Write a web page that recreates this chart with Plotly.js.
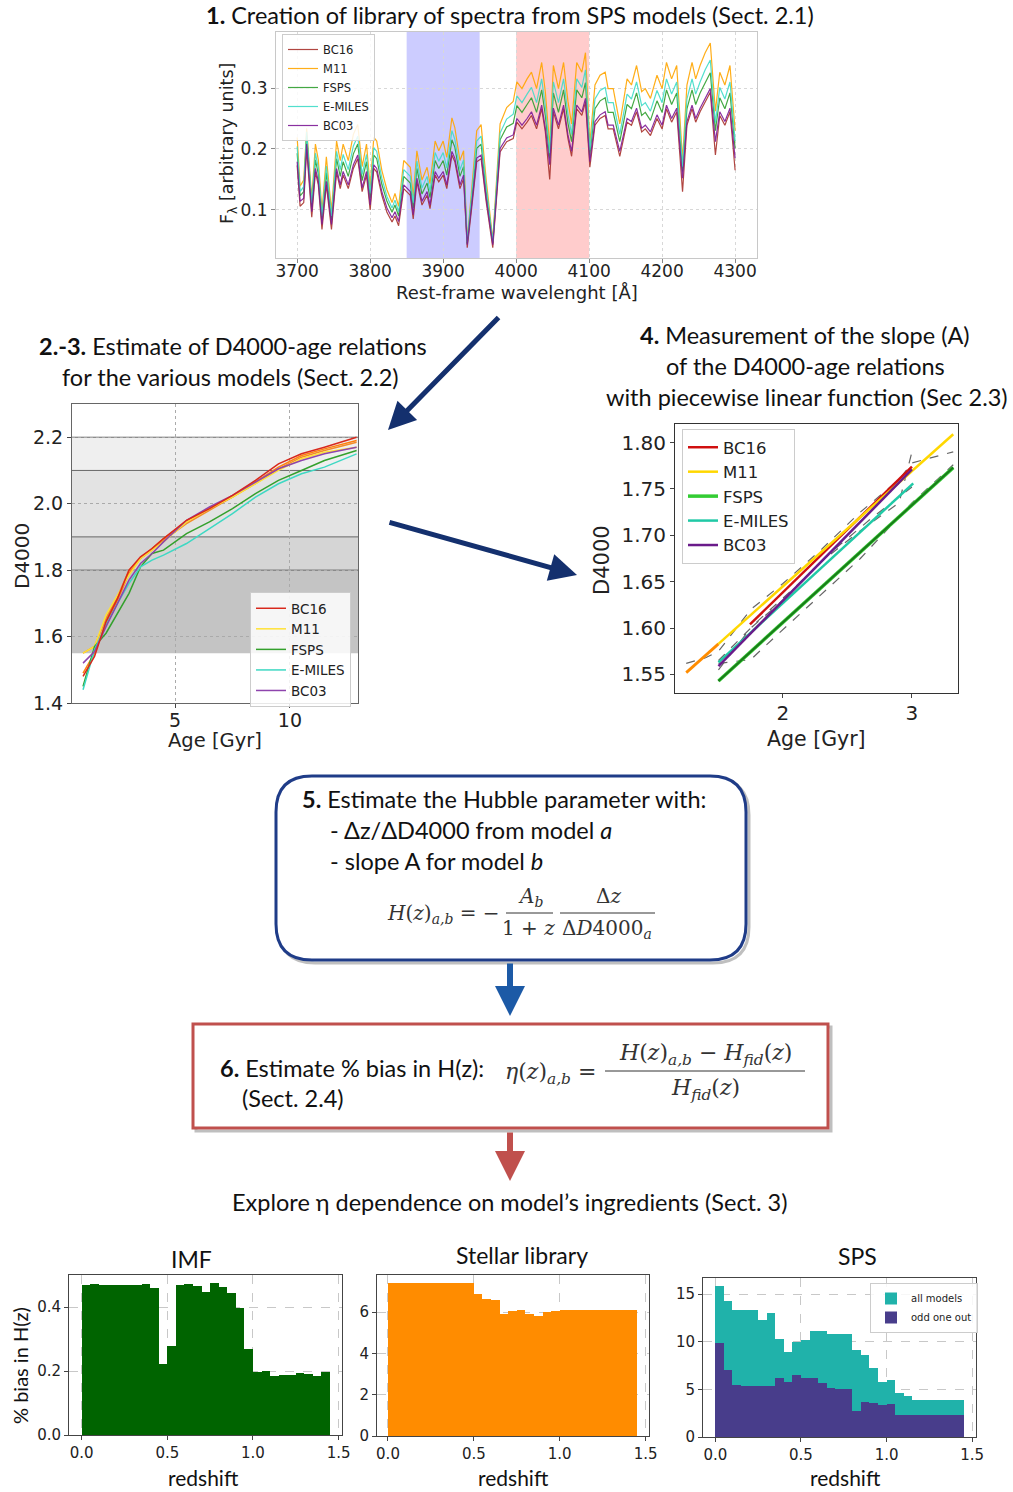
<!DOCTYPE html>
<html><head><meta charset="utf-8">
<script src="https://cdn.plot.ly/plotly-3.0.1.min.js"></script>
<style>html,body{margin:0;padding:0;background:#fff}#chart{width:1013px;height:1492px}</style>
</head><body><div id="chart"></div>
<script>
const W=1013,H=1492;
// ---------- DATA ----------
// Panel 1: spectra
const specWave=[3700,3704,3709,3713,3720,3725,3729,3734,3740,3747,3754,3759,3763,3770,3777,3783,3789,3795,3800,3805,3809,3816,3823,3830,3834,3839,3846,3855,3859,3864,3871,3878,3882,3889,3894,3900,3905,3912,3916,3923,3928,3933,3939,3946,3952,3959,3968,3978,3987,3996,4001,4008,4015,4021,4028,4035,4040,4046,4051,4058,4065,4071,4076,4083,4090,4095,4101,4108,4115,4122,4126,4133,4142,4152,4158,4165,4172,4177,4184,4193,4200,4206,4213,4220,4228,4234,4241,4246,4252,4259,4266,4273,4279,4286,4293,4300];
const fluxBC16=[.173,.106,.112,.200,.088,.162,.141,.068,.141,.068,.162,.135,.157,.135,.168,.184,.130,.157,.100,.168,.162,.124,.096,.080,.090,.074,.135,.124,.085,.146,.108,.124,.102,.157,.146,.157,.135,.190,.179,.135,.151,.038,.102,.179,.184,.113,.038,.195,.212,.217,.244,.233,.244,.255,.233,.266,.228,.150,.261,.233,.266,.217,.188,.266,.255,.277,.170,.239,.250,.255,.233,.233,.188,.244,.239,.261,.228,.233,.222,.250,.233,.266,.244,.261,.130,.239,.266,.244,.261,.277,.293,.190,.255,.239,.261,.165];
const fluxM11=[.219,.139,.149,.234,.119,.208,.182,.098,.187,.098,.213,.181,.208,.181,.224,.240,.171,.208,.138,.219,.213,.165,.133,.112,.127,.106,.181,.170,.122,.197,.149,.170,.143,.213,.197,.213,.186,.251,.235,.181,.197,.049,.133,.230,.240,.149,.051,.241,.268,.278,.310,.299,.315,.326,.299,.342,.294,.204,.337,.299,.342,.278,.241,.342,.326,.358,.209,.305,.321,.326,.299,.299,.241,.315,.305,.337,.294,.299,.283,.321,.299,.342,.315,.337,.182,.305,.342,.315,.337,.358,.374,.262,.326,.305,.337,.230];
const fluxFSPS=[.193,.123,.130,.222,.105,.182,.159,.084,.161,.084,.184,.155,.179,.155,.192,.208,.148,.179,.119,.190,.184,.142,.114,.096,.108,.090,.155,.144,.103,.168,.126,.144,.120,.181,.168,.181,.157,.215,.203,.155,.171,.045,.117,.201,.208,.130,.046,.215,.236,.242,.271,.260,.273,.284,.260,.297,.255,.185,.292,.260,.297,.242,.212,.297,.284,.309,.190,.266,.279,.284,.260,.260,.212,.273,.266,.292,.255,.260,.247,.279,.260,.297,.273,.292,.163,.266,.297,.273,.292,.309,.325,.230,.284,.266,.292,.201];
const fluxEMILES=[.204,.130,.138,.228,.111,.193,.169,.090,.172,.090,.196,.166,.191,.166,.205,.221,.158,.191,.127,.202,.196,.152,.122,.103,.116,.097,.166,.155,.111,.180,.136,.155,.130,.194,.180,.194,.169,.230,.216,.166,.182,.047,.124,.213,.221,.138,.048,.226,.249,.257,.287,.276,.290,.301,.276,.315,.271,.193,.310,.276,.315,.257,.224,.315,.301,.330,.198,.282,.296,.301,.276,.276,.224,.290,.282,.310,.271,.276,.262,.296,.276,.315,.290,.310,.171,.282,.315,.290,.310,.330,.346,.243,.301,.282,.310,.213];
const fluxBC03=[.179,.114,.119,.208,.097,.168,.147,.076,.147,.076,.168,.141,.163,.141,.174,.190,.136,.163,.108,.174,.168,.130,.103,.087,.097,.081,.141,.130,.092,.152,.114,.130,.108,.163,.152,.163,.141,.196,.185,.141,.157,.043,.108,.185,.190,.119,.043,.201,.218,.223,.250,.239,.250,.261,.239,.272,.234,.174,.267,.239,.272,.223,.196,.272,.261,.283,.179,.245,.256,.261,.239,.239,.196,.250,.245,.267,.234,.239,.228,.256,.239,.272,.250,.267,.152,.245,.272,.250,.267,.283,.299,.212,.261,.245,.267,.185];
const blueBand=[3850,3950], redBand=[4000,4100];
const specTicks=[3700,3800,3900,4000,4100,4200,4300];
// Panel 2: D4000-age relations
const ageGrid=[1.0,1.5,2.0,2.5,3.0,3.5,4.0,4.5,5.5,6.5,7.5,8.5,9.5,10.5,11.5,12.9];
const d4BC16=[1.48,1.54,1.645,1.715,1.80,1.84,1.865,1.895,1.95,1.985,2.025,2.07,2.12,2.15,2.17,2.20];
const d4BC16b=[1.55,1.57,1.655,1.72,1.80,1.835,1.86,1.89,1.94,1.98,2.02,2.06,2.105,2.14,2.16,2.185];
const d4BC16c=[1.49,1.55,1.64,1.71,1.79,1.835,1.865,1.895,1.945,1.985,2.02,2.065,2.11,2.145,2.165,2.19];
const d4M11=[1.55,1.57,1.665,1.725,1.785,1.835,1.86,1.885,1.945,1.985,2.02,2.06,2.10,2.135,2.155,2.17];
const d4FSPS=[1.45,1.57,1.61,1.67,1.73,1.81,1.85,1.86,1.91,1.945,1.985,2.03,2.07,2.10,2.13,2.16];
const d4EMILES=[1.44,1.56,1.635,1.70,1.76,1.81,1.83,1.845,1.88,1.925,1.97,2.02,2.06,2.09,2.11,2.15];
const d4BC03=[1.52,1.555,1.63,1.70,1.77,1.82,1.85,1.885,1.95,1.99,2.025,2.065,2.105,2.13,2.15,2.17];
const bandEdges=[1.55,1.8,1.9,2.1,2.2];
// Panel 4: piecewise linear fits
const fitAgeBC16=[1.744,3.0], fitD4BC16=[1.604,1.774];
const fitAgeM11lo=[1.25,1.5], fitD4M11lo=[1.552,1.583];
const fitAgeM11=[1.5,3.32], fitD4M11=[1.583,1.809];
const fitAgeFSPS=[1.5,3.32], fitD4FSPS=[1.543,1.773];
const fitAgeEMILES=[1.5,3.01], fitD4EMILES=[1.563,1.756];
const fitAgeBC03=[1.5,3.0], fitD4BC03=[1.559,1.771];
const dataAgeA=[1.5,1.75,1.95,2.3,2.6,3.0,3.32], dataD4A=[1.562,1.566,1.592,1.637,1.675,1.735,1.776];
const dataAgeB=[1.25,1.4,1.5,1.75,2.0,2.3,2.6,2.9,3.0,3.32], dataD4B=[1.562,1.568,1.575,1.62,1.648,1.685,1.725,1.76,1.778,1.79];
const dataAgeC=[1.5,1.75,2.0,2.3,2.6,2.9,3.0], dataD4C=[1.555,1.60,1.63,1.672,1.705,1.735,1.79];
const dataAgeD=[1.5,1.8,2.1,2.4,2.7,3.0], dataD4D=[1.565,1.607,1.645,1.685,1.72,1.752];
// Bottom: % bias histograms
const zBinLeft=[0,0.05,0.10,0.15,0.20,0.25,0.30,0.35,0.40,0.45,0.50,0.55,0.60,0.65,0.70,0.75,0.80,0.85,0.90,0.95,1.00,1.05,1.10,1.15,1.20,1.25,1.30,1.35,1.40];
const imfBias=[0.469,0.471,0.469,0.468,0.468,0.468,0.468,0.471,0.459,0.223,0.277,0.469,0.471,0.466,0.448,0.474,0.464,0.444,0.396,0.269,0.197,0.200,0.183,0.188,0.188,0.194,0.191,0.185,0.196];
const libBias=[7.42,7.42,7.42,7.42,7.42,7.42,7.41,7.41,7.40,7.40,6.90,6.66,6.61,5.92,6.04,6.12,5.92,5.82,5.99,6.08,6.10,6.10,6.10,6.11,6.11,6.11,6.10,6.10,6.10];
const spsAll=[15.9,14.27,13.39,13.29,13.32,12.24,13.0,10.28,8.88,9.97,10.14,11.15,11.12,10.84,10.77,10.77,9.09,8.57,7.27,5.77,6.01,4.65,4.27,3.85,3.85,3.85,3.85,3.85,3.85];
const spsOdd=[9.9,6.99,5.42,5.35,5.35,5.35,5.35,6.22,5.77,6.5,6.15,6.22,5.66,5.14,5.0,5.0,2.69,3.67,3.6,3.32,3.43,2.27,2.27,2.27,2.27,2.27,2.27,2.27,2.27];
const zTicks=[0,0.5,1.0,1.5];

// ---------- HELPERS ----------
const xd=(a,b)=>[a/W,b/W];
const yd=(t,b)=>[1-b/H,1-t/H];
const PX=x=>x/W, PY=y=>1-y/H;
function axis(dom,range,o){return Object.assign({domain:dom,range:range,showline:true,mirror:true,linecolor:'#444',linewidth:1,ticks:'outside',ticklen:4,tickcolor:'#444',zeroline:false,showgrid:false,fixedrange:true,tickfont:{family:'DejaVu Sans',size:15,color:'#222'}},o);}
function ann(x,y,text,o){return Object.assign({xref:'paper',yref:'paper',x:PX(x),y:PY(y),text:text,showarrow:false,xanchor:'center',yanchor:'middle',font:{family:'Lato',size:24,color:'#111'}},o||{});}
function arrow(hx,hy,tx,ty,color,w,s){return {xref:'paper',yref:'paper',x:PX(hx),y:PY(hy),ax:tx-hx,ay:ty-hy,axref:'pixel',ayref:'pixel',text:'',showarrow:true,arrowhead:2,arrowsize:s||1,arrowwidth:w,arrowcolor:color,standoff:0,startstandoff:0};}
function roundRect(L,T,R,B,r){const X=PX,Y=PY;
 return `M${X(L+r)},${Y(T)} L${X(R-r)},${Y(T)} Q${X(R)},${Y(T)} ${X(R)},${Y(T+r)} L${X(R)},${Y(B-r)} Q${X(R)},${Y(B)} ${X(R-r)},${Y(B)} L${X(L+r)},${Y(B)} Q${X(L)},${Y(B)} ${X(L)},${Y(B-r)} L${X(L)},${Y(T+r)} Q${X(L)},${Y(T)} ${X(L+r)},${Y(T)} Z`;}
function hline(x0,x1,y,color,w){return {type:'line',xref:'paper',yref:'paper',x0:PX(x0),x1:PX(x1),y0:PY(y),y1:PY(y),line:{color:color,width:w}};}

// ---------- TRACES ----------
const traces=[];
const spec=[['BC16',fluxBC16,'#a8322c'],['M11',fluxM11,'#ffa500'],['FSPS',fluxFSPS,'#2f9e2f'],['E-MILES',fluxEMILES,'#3fdcc8'],['BC03',fluxBC03,'#7d1a96']];
spec.forEach(s=>traces.push({type:'scatter',mode:'lines',x:specWave,y:s[1],name:s[0],line:{color:s[2],width:1.2},opacity:0.9,xaxis:'x',yaxis:'y',legend:'legend'}));

traces.push({type:'scatter',mode:'lines',x:ageGrid,y:d4BC16c,line:{color:'#ff7f0e',width:1.5},xaxis:'x2',yaxis:'y2',showlegend:false});
traces.push({type:'scatter',mode:'lines',x:ageGrid,y:d4BC16b,line:{color:'#f28c28',width:1.5},xaxis:'x2',yaxis:'y2',showlegend:false});
const p2=[['BC16',d4BC16,'#d8281c'],['M11',d4M11,'#ffe135'],['FSPS',d4FSPS,'#33a02c'],['E-MILES',d4EMILES,'#3ed8c3'],['BC03',d4BC03,'#8e44ad']];
const p2order=[1,2,3,4,0];
p2order.forEach(i=>{const s=p2[i];traces.push({type:'scatter',mode:'lines',x:ageGrid,y:s[1],name:s[0],line:{color:s[2],width:1.5},xaxis:'x2',yaxis:'y2',legend:'legend2',legendrank:i+1});});

[[dataAgeA,dataD4A],[dataAgeB,dataD4B],[dataAgeC,dataD4C],[dataAgeD,dataD4D]].forEach(d=>traces.push({type:'scatter',mode:'lines',x:d[0],y:d[1],line:{color:'#666',width:1.2,dash:'dash'},xaxis:'x3',yaxis:'y3',showlegend:false}));
traces.push({type:'scatter',mode:'lines',x:fitAgeBC16,y:fitD4BC16,name:'BC16',line:{color:'#d01010',width:2.5},xaxis:'x3',yaxis:'y3',legend:'legend3'});
traces.push({type:'scatter',mode:'lines',x:fitAgeM11lo,y:fitD4M11lo,line:{color:'#ff8c00',width:2.8},xaxis:'x3',yaxis:'y3',showlegend:false});
traces.push({type:'scatter',mode:'lines',x:fitAgeM11,y:fitD4M11,name:'M11',line:{color:'#ffd700',width:2.5},xaxis:'x3',yaxis:'y3',legend:'legend3'});
traces.push({type:'scatter',mode:'lines',x:fitAgeFSPS,y:fitD4FSPS,name:'FSPS',line:{color:'#33cc33',width:3.5},xaxis:'x3',yaxis:'y3',legend:'legend3'});
traces.push({type:'scatter',mode:'lines',x:fitAgeFSPS,y:fitD4FSPS,line:{color:'#1a7a1a',width:2},xaxis:'x3',yaxis:'y3',showlegend:false});
traces.push({type:'scatter',mode:'lines',x:fitAgeEMILES,y:fitD4EMILES,name:'E-MILES',line:{color:'#20c9a6',width:2.5},xaxis:'x3',yaxis:'y3',legend:'legend3'});
traces.push({type:'scatter',mode:'lines',x:fitAgeBC03,y:fitD4BC03,name:'BC03',line:{color:'#6a1b8a',width:2.5},xaxis:'x3',yaxis:'y3',legend:'legend3'});

const bar=(y,c,ax,name,leg)=>({type:'bar',x:zBinLeft,y:y,width:0.05,offset:0,marker:{color:c,line:{width:0}},xaxis:'x'+ax,yaxis:'y'+ax,name:name||'',showlegend:!!leg,legend:leg||'legend'});
traces.push(bar(imfBias,'#006400',4));
traces.push(bar(libBias,'#ff8c00',5));
traces.push(bar(spsAll,'#20b2aa',6,'all models','legend4'));
traces.push(bar(spsOdd,'#483d8b',6,'odd one out','legend4'));

// ---------- LAYOUT ----------
const gridDot={showgrid:true,gridcolor:'#d8d8d8',griddash:'dot',gridwidth:1};
const gridDash={showgrid:true,gridcolor:'#c8c8c8',griddash:'dash',gridwidth:1};
const layout={
 width:W,height:H,margin:{l:0,r:0,t:0,b:0},paper_bgcolor:'#fff',plot_bgcolor:'#fff',
 barmode:'overlay',bargap:0,showlegend:true,
 xaxis:axis(xd(276,757),[3671,4330],Object.assign({anchor:'y',tickvals:specTicks,linecolor:'#c8c8c8',tickcolor:'#888',ticklabelstandoff:-6,tickfont:{family:'DejaVu Sans',size:17,color:'#222'}},gridDot)),
 yaxis:axis(yd(32,258),[0.021,0.392],Object.assign({anchor:'x',tickvals:[0.1,0.2,0.3],tickformat:'.1f',linecolor:'#c8c8c8',tickcolor:'#888',tickfont:{family:'DejaVu Sans',size:17,color:'#222'}},gridDot)),
 xaxis2:axis(xd(72,358),[0.52,12.96],Object.assign({anchor:'y2',tickvals:[5,10],linecolor:'#666',ticklabelstandoff:-4,tickfont:{family:'DejaVu Sans',size:19,color:'#222'}},gridDot,{gridcolor:'#aaa'})),
 yaxis2:axis(yd(404,703),[1.4,2.3],Object.assign({anchor:'x2',tickvals:[1.4,1.6,1.8,2.0,2.2],tickformat:'.1f',linecolor:'#666',tickfont:{family:'DejaVu Sans',size:19,color:'#222'}},gridDot,{gridcolor:'#aaa'})),
 xaxis3:axis(xd(675,958),[1.163,3.357],{anchor:'y3',tickvals:[2,3],linecolor:'#333',ticklabelstandoff:-2,tickfont:{family:'DejaVu Sans',size:20,color:'#222'}}),
 yaxis3:axis(yd(424,693),[1.53,1.82],{anchor:'x3',tickvals:[1.55,1.60,1.65,1.70,1.75,1.80],tickformat:'.2f',linecolor:'#333',tickfont:{family:'DejaVu Sans',size:20,color:'#222'}}),
 xaxis4:axis(xd(69,342),[-0.074,1.52],Object.assign({anchor:'y4',tickvals:zTicks,tickformat:'.1f'},gridDash)),
 yaxis4:axis(yd(1275,1435),[0,0.5],Object.assign({anchor:'x4',tickvals:[0,0.2,0.4],tickformat:'.1f'},gridDash)),
 xaxis5:axis(xd(377,649),[-0.064,1.52],Object.assign({anchor:'y5',tickvals:zTicks,tickformat:'.1f'},gridDash)),
 yaxis5:axis(yd(1275,1436),[0,7.8],Object.assign({anchor:'x5',tickvals:[0,2,4,6]},gridDash)),
 xaxis6:axis(xd(703,976),[-0.072,1.522],Object.assign({anchor:'y6',tickvals:zTicks,tickformat:'.1f'},gridDash)),
 yaxis6:axis(yd(1278,1437),[0,16.7],Object.assign({anchor:'x6',tickvals:[0,5,10,15]},gridDash)),
 legend:{x:PX(282),y:PY(34),xanchor:'left',yanchor:'top',bgcolor:'rgba(255,255,255,0.85)',bordercolor:'#ccc',borderwidth:1,font:{family:'DejaVu Sans',size:11.5,color:'#222'},tracegroupgap:0},
 legend2:{x:PX(250),y:PY(592),xanchor:'left',yanchor:'top',bgcolor:'rgba(255,255,255,0.85)',bordercolor:'#ccc',borderwidth:1,font:{family:'DejaVu Sans',size:13.5,color:'#222'}},
 legend3:{x:PX(682),y:PY(429),xanchor:'left',yanchor:'top',bgcolor:'rgba(255,255,255,0.9)',bordercolor:'#ccc',borderwidth:1,font:{family:'DejaVu Sans',size:16.5,color:'#222'}},
 legend4:{x:PX(870),y:PY(1283),xanchor:'left',yanchor:'top',bgcolor:'rgba(255,255,255,0.85)',bordercolor:'#ccc',borderwidth:1,font:{family:'DejaVu Sans',size:10,color:'#222'}},
 shapes:[],annotations:[]
};
const S=layout.shapes, A=layout.annotations;
S.push({type:'rect',xref:'x',yref:'y domain',x0:blueBand[0],x1:blueBand[1],y0:0,y1:1,fillcolor:'rgba(0,0,255,0.2)',line:{width:0},layer:'below'});
S.push({type:'rect',xref:'x',yref:'y domain',x0:redBand[0],x1:redBand[1],y0:0,y1:1,fillcolor:'rgba(255,0,0,0.2)',line:{width:0},layer:'below'});
const bandFill=['#c4c4c4','#d5d5d5','#e3e3e3','#efefef'];
for(let i=0;i<4;i++){S.push({type:'rect',xref:'x2 domain',yref:'y2',x0:0,x1:1,y0:bandEdges[i],y1:bandEdges[i+1],fillcolor:bandFill[i],line:{width:0},layer:'below'});}
for(let i=1;i<5;i++){S.push({type:'line',xref:'x2 domain',yref:'y2',x0:0,x1:1,y0:bandEdges[i],y1:bandEdges[i],line:{color:'#666',width:1},layer:'below'});}
S.push({type:'path',xref:'paper',yref:'paper',path:roundRect(279,779,749,963,36),line:{color:'rgba(0,0,0,0.25)',width:3}});
S.push({type:'path',xref:'paper',yref:'paper',path:roundRect(276,776,746,960,36),line:{color:'#1f3c88',width:3},fillcolor:'#fff'});
S.push({type:'rect',xref:'paper',yref:'paper',x0:PX(196),x1:PX(831),y0:PY(1131),y1:PY(1027),line:{color:'rgba(0,0,0,0.25)',width:3}});
S.push({type:'rect',xref:'paper',yref:'paper',x0:PX(193),x1:PX(828),y0:PY(1128),y1:PY(1024),line:{color:'#c0504d',width:3},fillcolor:'#fff'});
S.push(hline(506,553,913,'#333',1));
S.push(hline(560,655,913,'#333',1));
S.push(hline(605,805,1071,'#333',1));

const lato=(s)=>({family:'Lato',size:s,color:'#111'});
const dv=(s)=>({family:'DejaVu Sans',size:s,color:'#222'});
const serif=(s)=>({family:'DejaVu Serif',size:s,color:'#333'});
A.push(ann(510,15,'<b>1.</b> Creation of library of spectra from SPS models (Sect. 2.1)',{font:lato(23.5)}));
A.push(ann(229,144,'F<sub>λ</sub> [arbitrary units]',{font:dv(17.5),textangle:-90}));
A.push(ann(517,292,'Rest-frame wavelenght [Å]',{font:dv(18)}));
A.push(ann(37,346,'<b>2.-3.</b> Estimate of D4000-age relations',{font:lato(23.5),xanchor:'left'}));
A.push(ann(60,377,'for the various models (Sect. 2.2)',{font:lato(23.5),xanchor:'left'}));
A.push(ann(805,335,'<b>4.</b> Measurement of the slope (A)',{font:lato(23.5)}));
A.push(ann(805,366,'of the D4000-age relations',{font:lato(23.5)}));
A.push(ann(807,397,'with piecewise linear function (Sec 2.3)',{font:lato(23.5)}));
A.push(ann(22,556,'D4000',{font:dv(20),textangle:-90}));
A.push(ann(215,740,'Age [Gyr]',{font:dv(19.5)}));
A.push(ann(602,560,'D4000',{font:dv(21),textangle:-90}));
A.push(ann(816,739,'Age [Gyr]',{font:dv(20.5)}));
A.push(arrow(388,430,500,316,'#14306e',5,1.1));
A.push(arrow(577,575,388,522,'#14306e',5,1.1));
A.push(ann(300,799,'<b>5.</b> Estimate the Hubble parameter with:',{font:lato(23.5),xanchor:'left'}));
A.push(ann(328,830,'- Δz/ΔD4000 from model <i>a</i>',{font:lato(23.5),xanchor:'left'}));
A.push(ann(328,861,'- slope A for model <i>b</i>',{font:lato(23.5),xanchor:'left'}));
A.push(ann(502,914,'<i>H</i>(<i>z</i>)<sub><i>a,b</i></sub> = −',{font:serif(20),xanchor:'right'}));
A.push(ann(530,897,'<i>A<sub>b</sub></i>',{font:serif(20)}));
A.push(ann(528,928,'1 + <i>z</i>',{font:serif(20)}));
A.push(ann(608,896,'Δ<i>z</i>',{font:serif(20)}));
A.push(ann(607,929,'Δ<i>D</i>4000<sub><i>a</i></sub>',{font:serif(20)}));
A.push(arrow(510,1016,510,962,'#1c5aa6',6,1));
A.push(ann(218,1068,'<b>6.</b> Estimate % bias in H(z):',{font:lato(23.5),xanchor:'left'}));
A.push(ann(240,1098,'(Sect. 2.4)',{font:lato(23.5),xanchor:'left'}));
A.push(ann(598,1073,'<i>η</i>(<i>z</i>)<sub><i>a,b</i></sub> =',{font:serif(22),xanchor:'right'}));
A.push(ann(705,1054,'<i>H</i>(<i>z</i>)<sub><i>a,b</i></sub> − <i>H<sub>fid</sub></i>(<i>z</i>)',{font:serif(22)}));
A.push(ann(705,1089,'<i>H<sub>fid</sub></i>(<i>z</i>)',{font:serif(22)}));
A.push(arrow(510,1181,510,1131,'#c0504d',6,1));
A.push(ann(510,1202,'Explore η dependence on model’s ingredients (Sect. 3)',{font:lato(23.5)}));
A.push(ann(191,1259,'IMF',{font:lato(23)}));
A.push(ann(522,1255,'Stellar library',{font:lato(23)}));
A.push(ann(857,1256,'SPS',{font:lato(23)}));
A.push(ann(20,1366,'% bias in H(z)',{font:lato(20),textangle:-90}));
A.push(ann(203,1477,'redshift',{font:lato(21)}));
A.push(ann(513,1477,'redshift',{font:lato(21)}));
A.push(ann(845,1477,'redshift',{font:lato(21)}));

Plotly.newPlot('chart',traces,layout,{displayModeBar:false,staticPlot:true});
</script></body></html>
